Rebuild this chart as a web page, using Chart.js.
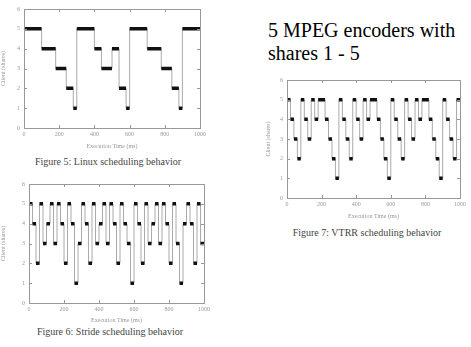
<!DOCTYPE html>
<html>
<head>
<meta charset="utf-8">
<script src="https://cdn.jsdelivr.net/npm/chart.js@4.4.1/dist/chart.umd.min.js"></script>
<style>
  body { margin: 0; background: #fff; width: 471px; height: 347px; position: relative; overflow: hidden; }
  canvas { position: absolute; }
  .cap { position: absolute; font-family: "Liberation Serif", serif; font-size: 10px; color: #444; white-space: nowrap; transform: translateX(-50%); }
  #title { position: absolute; left: 268px; top: 19px; font-family: "Liberation Serif", serif; font-size: 20px; line-height: 23px; color: #000; }
</style>
</head>
<body>
<div id="title">5 MPEG encoders with<br>shares 1 - 5</div>
<canvas id="linux" style="left:0;top:0"></canvas>
<canvas id="stride" style="left:0;top:172px"></canvas>
<canvas id="vtrr" style="left:265px;top:70px"></canvas>
<div class="cap" style="left:108px;top:156px">Figure 5: Linux scheduling behavior</div>
<div class="cap" style="left:110px;top:326px">Figure 6: Stride scheduling behavior</div>
<div class="cap" style="left:367px;top:227px">Figure 7: VTRR scheduling behavior</div>
<script>
// data
const quantumMs = 20;
const endMs = 1000;
const xTicks = [0, 200, 400, 600, 800, 1000];
const yTicks = [0, 1, 2, 3, 4, 5, 6];

// Linux: runs (start time in ms, client)
const linuxStart = [0, 100, 180, 240, 280, 300, 400, 440, 500, 540, 580, 600, 700, 780, 840, 880, 900];
const linuxClient = [5, 4, 3, 2, 1, 5, 4, 3, 4, 2, 1, 5, 4, 3, 2, 1, 5];

// Stride / VTRR: client per 20 ms quantum
const strideClient = [5, 4, 2, 5, 3, 4, 5, 3, 5, 4, 2, 5, 4, 1, 3,
                      5, 4, 2, 5, 3, 4, 5, 3, 5, 4, 2, 5, 4, 3, 1,
                      5, 4, 2, 5, 3, 4, 5, 3, 5, 4, 2, 5, 3, 1, 4,
                      5, 4, 2, 5, 3];
const vtrrClient = [5, 4, 3, 2, 5, 4, 3, 5, 4, 5, 5, 4, 3, 2, 1,
                    5, 4, 3, 2, 5, 4, 3, 5, 4, 5, 5, 4, 3, 2, 1,
                    5, 4, 3, 2, 5, 4, 3, 5, 4, 5, 5, 4, 3, 2, 1,
                    5, 4, 3, 2, 5];

// turn a per-quantum sequence into runs
function toRuns(seq) {
    const starts = [], clients = [];
    seq.forEach((c, i) => {
        if (i === 0 || c !== seq[i - 1]) {
            starts.push(i * quantumMs);
            clients.push(c);
        }
    });
    return { starts, clients };
}

// inward ticks + frame, gnuplot style
const framePlugin = {
    id: 'frame',
    afterDraw(chart) {
        const { ctx, chartArea: a, scales } = chart;
        ctx.save();
        ctx.strokeStyle = '#999';
        ctx.lineWidth = 1;
        ctx.strokeRect(a.left + 0.5, a.top + 0.5, a.right - a.left, a.bottom - a.top);
        ctx.beginPath();
        xTicks.forEach(v => {
            const px = Math.round(scales.x.getPixelForValue(v)) + 0.5;
            ctx.moveTo(px, a.bottom); ctx.lineTo(px, a.bottom - 3);
            ctx.moveTo(px, a.top); ctx.lineTo(px, a.top + 3);
        });
        yTicks.forEach(v => {
            const py = Math.round(scales.y.getPixelForValue(v)) + 0.5;
            ctx.moveTo(a.left, py); ctx.lineTo(a.left + 3, py);
            ctx.moveTo(a.right, py); ctx.lineTo(a.right - 3, py);
        });
        ctx.stroke();
        ctx.restore();
    }
};

function makeChart(id, w, h, starts, clients, box) {
    const el = document.getElementById(id);
    el.width = w; el.height = h;
    el.style.width = w + 'px'; el.style.height = h + 'px';

    const step = starts.map((s, i) => ({ x: s, y: clients[i] }));
    step.push({ x: endMs, y: clients[clients.length - 1] });

    const runs = [];
    starts.forEach((s, i) => {
        const e = i + 1 < starts.length ? starts[i + 1] : endMs;
        runs.push({ x: s, y: clients[i] }, { x: e, y: clients[i] }, { x: e, y: null });
    });

    const tickFont = { family: 'Liberation Serif', size: 6 };
    return new Chart(el, {
        type: 'line',
        data: {
            datasets: [
                { data: runs, borderColor: '#111', borderWidth: 3.5, pointRadius: 0, spanGaps: false },
                { data: step, stepped: true, borderColor: '#aaa', borderWidth: 1, pointRadius: 0 }
            ]
        },
        options: {
            responsive: false,
            animation: false,
            layout: { padding: { top: box.top, right: box.right, left: 0, bottom: 0 } },
            plugins: { legend: { display: false }, tooltip: { enabled: false } },
            scales: {
                x: {
                    type: 'linear', min: 0, max: endMs,
                    afterBuildTicks: s => { s.ticks = xTicks.map(v => ({ value: v })); },
                    afterFit: s => { s.height = box.xh; },
                    grid: { display: false, drawTicks: false }, border: { display: false },
                    ticks: { color: '#999', font: tickFont, padding: 3, maxRotation: 0, callback: v => String(v) },
                    title: { display: true, text: 'Execution Time (ms)', color: '#999', font: tickFont, padding: { top: 2, bottom: 0 } }
                },
                y: {
                    type: 'linear', min: 0, max: 6,
                    afterBuildTicks: s => { s.ticks = yTicks.map(v => ({ value: v })); },
                    afterFit: s => { s.width = box.yw; },
                    grid: { display: false, drawTicks: false }, border: { display: false },
                    ticks: { color: '#999', font: tickFont, padding: 4 },
                    title: { display: true, text: 'Client (shares)', color: '#999', font: tickFont, padding: 0 }
                }
            }
        },
        plugins: [framePlugin]
    });
}

makeChart('linux', 210, 150, linuxStart, linuxClient, { top: 9, right: 10, xh: 22, yw: 24 });
const s = toRuns(strideClient);
makeChart('stride', 214, 152, s.starts, s.clients, { top: 12, right: 10, xh: 21, yw: 29 });
const v = toRuns(vtrrClient);
makeChart('vtrr', 206, 150, v.starts, v.clients, { top: 10, right: 11, xh: 22, yw: 22 });
</script>
</body>
</html>
